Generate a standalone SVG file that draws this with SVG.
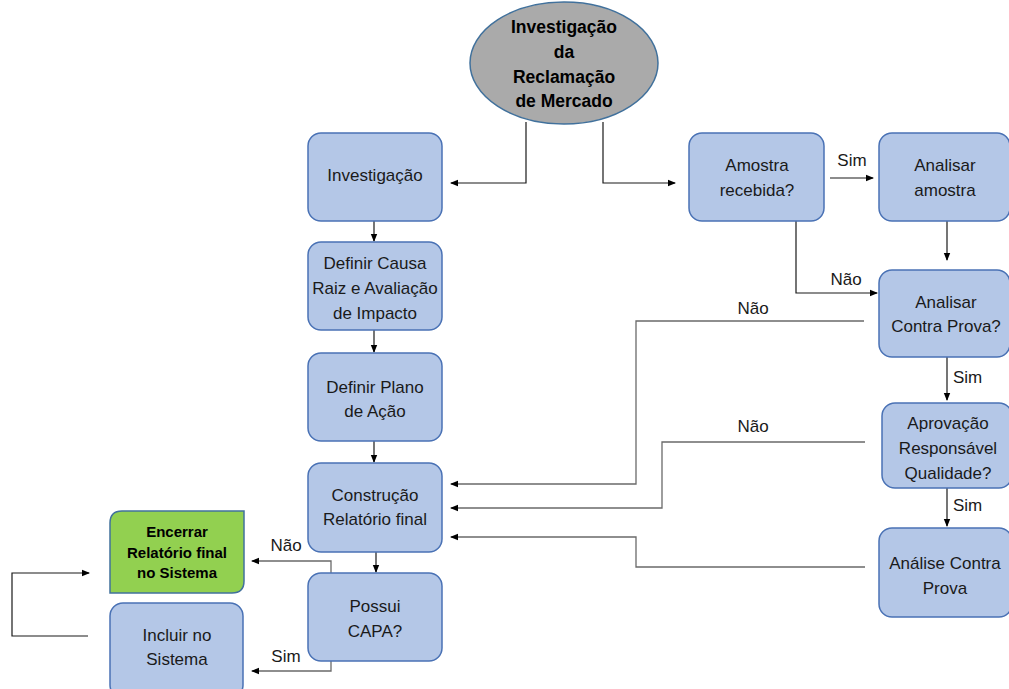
<svg xmlns="http://www.w3.org/2000/svg" width="1009" height="689" viewBox="0 0 1009 689">
<style>
.box{fill:#b4c7e7;stroke:#4a72b5;stroke-width:1.5}
.t{font-family:"Liberation Sans",Arial,sans-serif;font-size:17px;fill:#1a1a1a;text-anchor:middle}
.b{font-family:"Liberation Sans",Arial,sans-serif;font-weight:bold;fill:#000;text-anchor:middle}
.lbl{font-family:"Liberation Sans",Arial,sans-serif;font-size:17px;fill:#1a1a1a}
.c{fill:none;stroke:#6a6a6a;stroke-width:1.3}
.k{fill:none;stroke:#1a1a1a;stroke-width:1.2}
</style>
<defs>
<marker id="ah" markerWidth="8" markerHeight="8" refX="7" refY="4" orient="auto" markerUnits="userSpaceOnUse">
<path d="M0,0.8 L8,4 L0,7.2 Z" fill="#000"/>
</marker>
</defs>
<rect width="1009" height="689" fill="#fff"/>
<g id="connectors">
<path class="k" d="M526,122 V183 H451" marker-end="url(#ah)"/>
<path class="k" d="M603,122 V183 H675" marker-end="url(#ah)"/>
<path class="k" d="M374,221 V241" marker-end="url(#ah)"/>
<path class="k" d="M374,330 V352" marker-end="url(#ah)"/>
<path class="k" d="M374,441 V462" marker-end="url(#ah)"/>
<path class="k" d="M376,552 V572" marker-end="url(#ah)"/>
<path class="k" d="M830,178 H873" marker-end="url(#ah)"/>
<path class="k" d="M947,221 V260" marker-end="url(#ah)"/>
<path class="k" d="M796,221 V293 H877" marker-end="url(#ah)"/>
<path class="c" d="M864,321 H636 V484 H451" marker-end="url(#ah)"/>
<path class="k" d="M947,357 V400" marker-end="url(#ah)"/>
<path class="c" d="M865,442 H662 V508 H451" marker-end="url(#ah)"/>
<path class="k" d="M947,488 V526" marker-end="url(#ah)"/>
<path class="c" d="M865,567 H636 V537 H451" marker-end="url(#ah)"/>
<path class="c" d="M331,573 V561 H252" marker-end="url(#ah)"/>
<path class="c" d="M331,661 V671 H252" marker-end="url(#ah)"/>
<path class="k" d="M88,636 H12 V573 H89" marker-end="url(#ah)"/>
<text class="lbl" x="852" y="166" text-anchor="middle">Sim</text>
<text class="lbl" x="846" y="285" text-anchor="middle">Não</text>
<text class="lbl" x="753" y="314" text-anchor="middle">Não</text>
<text class="lbl" x="953" y="383">Sim</text>
<text class="lbl" x="753" y="432" text-anchor="middle">Não</text>
<text class="lbl" x="953" y="511">Sim</text>
<text class="lbl" x="286" y="551" text-anchor="middle">Não</text>
<text class="lbl" x="286" y="662" text-anchor="middle">Sim</text>
</g>
<g id="start">
<ellipse cx="564" cy="63" rx="94" ry="61" fill="#aaaaaa" stroke="#41719c" stroke-width="1.5"/>
<text class="b" font-size="17.5" x="564" y="33">Investigação</text>
<text class="b" font-size="17.5" x="564" y="58">da</text>
<text class="b" font-size="17.5" x="564" y="83">Reclamação</text>
<text class="b" font-size="17.5" x="564" y="107">de Mercado</text>
</g>
<g id="investigacao">
<rect class="box" x="308" y="133" width="134" height="88" rx="13"/>
<text class="t" x="375" y="181">Investigação</text>
</g>
<g id="causa">
<rect class="box" x="308" y="242" width="134" height="88" rx="13"/>
<text class="t" x="375" y="269">Definir Causa</text>
<text class="t" x="375" y="294">Raiz e Avaliação</text>
<text class="t" x="375" y="319">de Impacto</text>
</g>
<g id="plano">
<rect class="box" x="308" y="353" width="134" height="88" rx="13"/>
<text class="t" x="375" y="393">Definir Plano</text>
<text class="t" x="375" y="417">de Ação</text>
</g>
<g id="relatorio">
<rect class="box" x="308" y="463" width="134" height="89" rx="13"/>
<text class="t" x="375" y="501">Construção</text>
<text class="t" x="375" y="525">Relatório final</text>
</g>
<g id="capa">
<rect class="box" x="308" y="573" width="134" height="88" rx="13"/>
<text class="t" x="375" y="612">Possui</text>
<text class="t" x="375" y="637">CAPA?</text>
</g>
<g id="encerrar">
<path d="M122,511 H244 V581 Q244,593 232,593 H110 V523 Q110,511 122,511 Z" fill="#92d050" stroke="#41719c" stroke-width="1.5"/>
<text class="b" font-size="15" x="177" y="537">Encerrar</text>
<text class="b" font-size="15" x="177" y="558">Relatório final</text>
<text class="b" font-size="15" x="177" y="578">no Sistema</text>
</g>
<g id="incluir">
<rect class="box" x="110" y="603" width="133" height="95" rx="13"/>
<text class="t" x="177" y="641">Incluir no</text>
<text class="t" x="177" y="665">Sistema</text>
</g>
<g id="amostra">
<rect class="box" x="689" y="133" width="135" height="88" rx="13"/>
<text class="t" x="757" y="171">Amostra</text>
<text class="t" x="757" y="196">recebida?</text>
</g>
<g id="analisar-amostra">
<rect class="box" x="879" y="133" width="131" height="88" rx="13"/>
<text class="t" x="945" y="171">Analisar</text>
<text class="t" x="945" y="196">amostra</text>
</g>
<g id="contra-prova">
<rect class="box" x="879" y="270" width="131" height="87" rx="13"/>
<text class="t" x="946" y="308">Analisar</text>
<text class="t" x="946" y="332">Contra Prova?</text>
</g>
<g id="aprovacao">
<rect class="box" x="882" y="403" width="130" height="85" rx="13"/>
<text class="t" x="948" y="429">Aprovação</text>
<text class="t" x="948" y="454">Responsável</text>
<text class="t" x="948" y="479">Qualidade?</text>
</g>
<g id="analise">
<rect class="box" x="879" y="528" width="133" height="89" rx="13"/>
<text class="t" x="945" y="569">Análise Contra</text>
<text class="t" x="945" y="594">Prova</text>
</g>
</svg>
